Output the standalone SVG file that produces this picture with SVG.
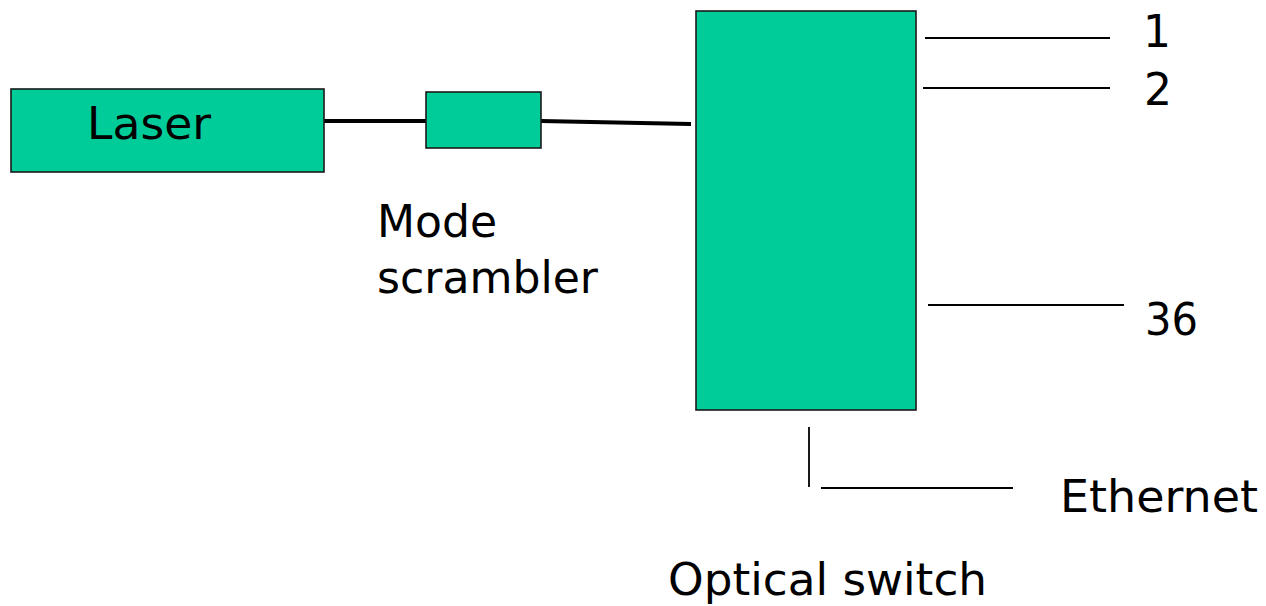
<svg xmlns="http://www.w3.org/2000/svg" width="1266" height="606" viewBox="0 0 1266 606">
<style>
.box{fill:#00CC99;stroke:#1a1a1a;stroke-width:1.6}
.lbl{font-family:"DejaVu Sans","Noto Sans",sans-serif;font-size:44px;fill:#000}
.thin{stroke:#000;stroke-width:1.8;fill:none}
.thick{stroke:#000;stroke-width:4;fill:none}
</style>
<rect width="1266" height="606" fill="#fff"/>
<g id="connectors">
<line class="thick" x1="324" y1="121" x2="426" y2="121"/>
<line class="thick" x1="541" y1="121" x2="691" y2="124"/>
<line class="thin" x1="925" y1="38" x2="1110" y2="38"/>
<line class="thin" x1="923" y1="88" x2="1110" y2="88"/>
<line class="thin" x1="928" y1="305" x2="1124" y2="305"/>
<line class="thin" x1="809" y1="427" x2="809" y2="487"/>
<line class="thin" x1="821" y1="488" x2="1013" y2="488"/>
</g>
<g id="laser">
<rect class="box" x="11" y="89" width="313" height="83"/>
<text class="lbl" x="87" y="139" textLength="124" lengthAdjust="spacingAndGlyphs">Laser</text>
</g>
<g id="scrambler">
<rect class="box" x="426" y="92" width="115" height="56"/>
<text class="lbl" x="377" y="237" textLength="120" lengthAdjust="spacingAndGlyphs">Mode</text>
<text class="lbl" x="377" y="293" textLength="221" lengthAdjust="spacingAndGlyphs">scrambler</text>
</g>
<g id="switch">
<rect class="box" x="696" y="11" width="220" height="399"/>
<text class="lbl" x="668" y="595" textLength="319" lengthAdjust="spacingAndGlyphs">Optical switch</text>
</g>
<g id="port1"><text class="lbl" x="1143" y="47">1</text></g>
<g id="port2"><text class="lbl" x="1144" y="105">2</text></g>
<g id="port36"><text class="lbl" x="1145" y="335" textLength="53" lengthAdjust="spacingAndGlyphs">36</text></g>
<g id="ethernet"><text class="lbl" x="1060" y="512" textLength="198" lengthAdjust="spacingAndGlyphs">Ethernet</text></g>
</svg>
